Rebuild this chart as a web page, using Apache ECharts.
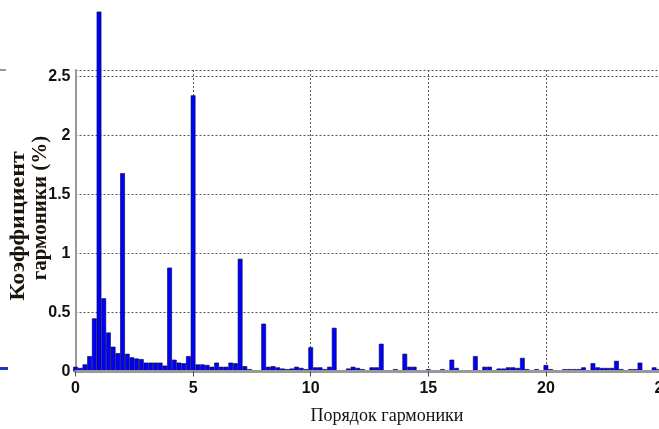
<!DOCTYPE html>
<html><head><meta charset="utf-8">
<script src="https://cdn.jsdelivr.net/npm/echarts@6/dist/echarts.min.js"></script>
<style>html,body{margin:0;padding:0;background:#fff}#c{width:659px;height:429px}</style>
</head><body><div id="c"></div>
<script>
// Harmonic order (bins of 0.2)
const orders = [0,0.2,0.4,0.6,0.8,1,1.2,1.4,1.6,1.8,2,2.2,2.4,2.6,2.8,3,3.2,3.4,3.6,3.8,
  4,4.2,4.4,4.6,4.8,5,5.2,5.4,5.6,5.8,6,6.2,6.4,6.6,6.8,7,7.2,7.4,7.6,7.8,
  8,8.2,8.4,8.6,8.8,9,9.2,9.4,9.6,9.8,10,10.2,10.4,10.6,10.8,11,11.2,11.4,11.6,11.8,
  12,12.2,12.4,12.6,12.8,13,13.2,13.4,13.6,13.8,14,14.2,14.4,14.6,14.8,15,15.2,15.4,15.6,15.8,
  16,16.2,16.4,16.6,16.8,17,17.2,17.4,17.6,17.8,18,18.2,18.4,18.6,18.8,19,19.2,19.4,19.6,19.8,
  20,20.2,20.4,20.6,20.8,21,21.2,21.4,21.6,21.8,22,22.2,22.4,22.6,22.8,23,23.2,23.4,23.6,23.8,
  24,24.2,24.4,24.6,24.8,25];
// Harmonic coefficient (%)
const coef = [0.04,0.03,0.06,0.13,0.45,3.05,0.62,0.33,0.21,0.155,1.68,0.15,0.12,0.11,0.105,0.075,0.075,0.075,0.075,0.05,
  0.88,0.1,0.075,0.07,0.13,2.34,0.06,0.06,0.055,0.04,0.075,0.04,0.04,0.075,0.07,0.955,0.045,0.02,0.01,0.01,
  0.405,0.04,0.045,0.035,0.025,0.02,0.025,0.04,0.03,0.02,0.205,0.035,0.035,0.02,0.04,0.37,0.01,0.005,0.025,0.04,
  0.03,0.02,0.005,0.035,0.035,0.235,0.005,0.005,0.02,0.005,0.15,0.04,0.04,0.01,0.005,0.02,0.005,0.005,0.02,0.01,
  0.1,0.03,0.01,0.01,0.01,0.13,0.01,0.04,0.04,0.01,0.025,0.025,0.035,0.035,0.03,0.115,0.02,0.01,0.02,0.005,
  0.055,0.02,0.005,0.01,0.02,0.02,0.02,0.02,0.035,0.005,0.07,0.035,0.03,0.03,0.03,0.09,0.02,0.01,0.02,0.02,
  0.075,0.01,0.01,0.035,0.02,0.02];
const xTitle = 'Порядок гармоники';
const yTitle1 = 'Коэффициент';
const yTitle2 = 'гармоники (%)';

const chart = echarts.init(document.getElementById('c'), null, {renderer:'canvas'});
const grid = {left:75.5, width:588, top:70, height:301.5, containLabel:false, outerBoundsMode:'none'};
const dashed = {show:true, lineStyle:{color:'#555', width:1, type:[2,2]}};
chart.setOption({
  animation:false,
  backgroundColor:'#fff',
  grid: grid,
  xAxis: [{
    type:'value', min:0, max:25, interval:5,
    axisLine:{show:true, onZero:false, lineStyle:{color:'#777', width:2}},
    axisTick:{show:false},
    axisLabel:{margin:9, color:'#111', fontFamily:'Liberation Sans Narrow, Liberation Sans, Arial', fontWeight:'bold', fontSize:16},
    splitLine: dashed
  },{
    type:'value', min:0, max:25, interval:5, position:'top', z:5,
    axisLine:{show:true, lineStyle:{color:'#999', width:3}},
    axisTick:{show:true, inside:true, length:5, lineStyle:{color:'#444', width:1}},
    axisLabel:{show:false}, splitLine:{show:false}
  }],
  yAxis: {
    type:'value', min:0, max:2.555, interval:0.5,
    axisLine:{show:true, lineStyle:{color:'#999', width:2}},
    axisTick:{show:false},
    axisLabel:{margin:5, color:'#111', fontFamily:'Liberation Sans Narrow, Liberation Sans, Arial', fontWeight:'bold', fontSize:16,
      formatter: v => (Math.abs(v*2 - Math.round(v*2)) < 1e-6 ? String(v) : '')},
    splitLine: dashed
  },
  series: [{
    type:'bar', clip:false, barWidth:4.7, xAxisIndex:0,
    data: orders.map((o,i)=>[o, coef[i]]),
    itemStyle:{color:'#0000ff', borderColor:'#000033', borderWidth:0.6}
  }],
  graphic: [
    {type:'text', x:387, y:416, style:{text:xTitle, font:'18px "Liberation Serif"', fill:'#111', align:'center', verticalAlign:'middle'}},
    {type:'text', x:19, y:226, rotation:Math.PI/2, scaleX:1.2, style:{text:yTitle1, font:'bold 20px "Liberation Serif"', fill:'#1a140a', align:'center', verticalAlign:'middle'}},
    {type:'text', x:41, y:208, rotation:Math.PI/2, scaleX:1.05, style:{text:yTitle2, font:'bold 20px "Liberation Serif"', fill:'#1a140a', align:'center', verticalAlign:'middle'}},
    {type:'rect', shape:{x:0, y:69, width:6, height:2}, style:{fill:'#999'}},
    {type:'rect', shape:{x:0, y:367, width:8, height:3}, style:{fill:'#2233cc'}}
  ]
});
</script></body></html>
